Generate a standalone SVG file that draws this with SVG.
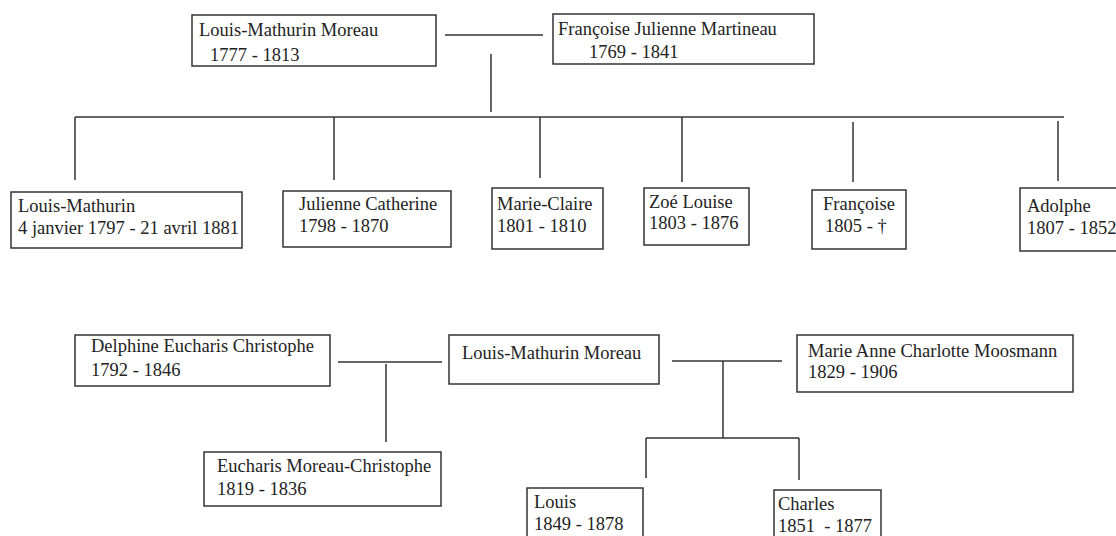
<svg xmlns="http://www.w3.org/2000/svg" width="1116" height="536" viewBox="0 0 1116 536">
<style>
.box{fill:#fff;stroke:#333;stroke-width:1.5}
.t{font-family:"Liberation Serif","Times New Roman",serif;font-size:18.5px;fill:#222}
.c line{stroke:#333;stroke-width:1.5}
</style>
<rect width="1116" height="536" fill="#fff"/>
<g class="c" id="connectors">
<line x1="445" y1="35" x2="543" y2="35"/>
<line x1="491" y1="54" x2="491" y2="112"/>
<line x1="75" y1="117" x2="1064" y2="117"/>
<line x1="75" y1="117" x2="75" y2="180"/>
<line x1="334" y1="117" x2="334" y2="180"/>
<line x1="540" y1="117" x2="540" y2="178"/>
<line x1="682" y1="117" x2="682" y2="182"/>
<line x1="853" y1="122" x2="853" y2="182"/>
<line x1="1058" y1="121" x2="1058" y2="181"/>
<line x1="338" y1="362" x2="442" y2="362"/>
<line x1="386" y1="364" x2="386" y2="442"/>
<line x1="672" y1="361" x2="782" y2="361"/>
<line x1="723" y1="361" x2="723" y2="438"/>
<line x1="646" y1="438" x2="799" y2="438"/>
<line x1="646" y1="438" x2="646" y2="478"/>
<line x1="799" y1="438" x2="799" y2="480"/>
</g>
<g id="n-lmm-father"><rect class="box" x="192" y="15" width="244" height="51"/><text class="t" x="199" y="36">Louis-Mathurin Moreau</text><text class="t" x="210" y="61">1777 - 1813</text></g>
<g id="n-fjm"><rect class="box" x="553" y="14" width="261" height="50"/><text class="t" x="558" y="35">Françoise Julienne Martineau</text><text class="t" x="589" y="58">1769 - 1841</text></g>
<g id="n-lm"><rect class="box" x="11" y="192" width="231" height="56"/><text class="t" x="18" y="212">Louis-Mathurin</text><text class="t" x="18" y="234">4 janvier 1797 - 21 avril 1881</text></g>
<g id="n-jc"><rect class="box" x="283" y="191" width="168" height="56"/><text class="t" x="299" y="210">Julienne Catherine</text><text class="t" x="299" y="232">1798 - 1870</text></g>
<g id="n-mc"><rect class="box" x="492" y="188" width="111" height="61"/><text class="t" x="497" y="210">Marie-Claire</text><text class="t" x="497" y="232">1801 - 1810</text></g>
<g id="n-zl"><rect class="box" x="644" y="188" width="105" height="57"/><text class="t" x="649" y="208">Zoé Louise</text><text class="t" x="649" y="229">1803 - 1876</text></g>
<g id="n-fr"><rect class="box" x="812" y="190" width="94" height="59"/><text class="t" x="823" y="210">Françoise</text><text class="t" x="825" y="232">1805 - †</text></g>
<g id="n-ad"><rect class="box" x="1020" y="188" width="110" height="63"/><text class="t" x="1027" y="212">Adolphe</text><text class="t" x="1027" y="234">1807 - 1852</text></g>
<g id="n-dec"><rect class="box" x="75" y="335" width="255" height="51"/><text class="t" x="91" y="352">Delphine Eucharis Christophe</text><text class="t" x="91" y="376">1792 - 1846</text></g>
<g id="n-lmm"><rect class="box" x="449" y="335" width="210" height="49"/><text class="t" x="462" y="359">Louis-Mathurin Moreau</text></g>
<g id="n-macm"><rect class="box" x="797" y="335" width="276" height="57"/><text class="t" x="808" y="357">Marie Anne Charlotte Moosmann</text><text class="t" x="808" y="378">1829 - 1906</text></g>
<g id="n-emc"><rect class="box" x="204" y="452" width="237" height="54"/><text class="t" x="217" y="472">Eucharis Moreau-Christophe</text><text class="t" x="217" y="495">1819 - 1836</text></g>
<g id="n-louis"><rect class="box" x="527" y="488" width="116" height="60"/><text class="t" x="534" y="508">Louis</text><text class="t" x="534" y="530">1849 - 1878</text></g>
<g id="n-charles"><rect class="box" x="774" y="490" width="107" height="60"/><text class="t" x="778" y="510">Charles</text><text class="t" x="778" y="532" xml:space="preserve">1851  - 1877</text></g>
</svg>
